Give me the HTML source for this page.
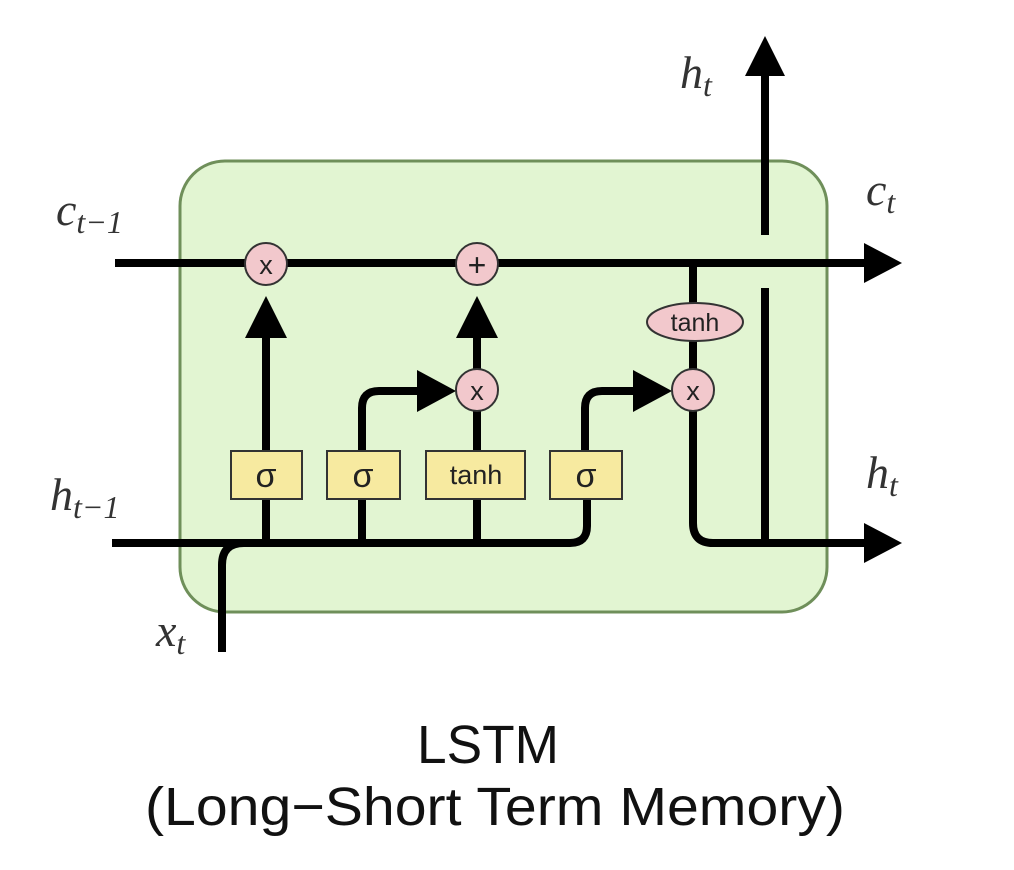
<!DOCTYPE html>
<html><head><meta charset="utf-8"><style>html,body{margin:0;padding:0;background:#fff;}svg{display:block}</style></head>
<body>
<svg width="1014" height="870" viewBox="0 0 1014 870" xmlns="http://www.w3.org/2000/svg">
<rect x="180" y="161" width="647" height="451" rx="45" ry="45" fill="#e2f5d2" stroke="#6f8f5a" stroke-width="3"/>
<g stroke="#000" stroke-width="8" fill="none" stroke-linecap="butt">
  <!-- cell state -->
  <line x1="115" y1="263" x2="868" y2="263"/>
  <!-- h line -->
  <path d="M112 543 H570 Q587 543 587 526 V499"/>
  <!-- x_t -->
  <path d="M222 652 V565 Q222 543 244 543"/>
  <!-- gate verticals -->
  <line x1="266" y1="543" x2="266" y2="499"/>
  <line x1="266" y1="451" x2="266" y2="335"/>
  <line x1="362" y1="543" x2="362" y2="499"/>
  <path d="M362 451 V408 Q362 391 379 391 H420"/>
  <line x1="477" y1="543" x2="477" y2="499"/>
  <line x1="477" y1="451" x2="477" y2="411"/>
  <line x1="477" y1="369" x2="477" y2="335"/>
  <path d="M585 451 V408 Q585 391 602 391 H637"/>
  <!-- output -->
  <line x1="693" y1="263" x2="693" y2="305"/>
  <line x1="693" y1="340" x2="693" y2="370"/>
  <path d="M693 411 V523 Q693 543 713 543 H868"/>
  <line x1="765" y1="543" x2="765" y2="288"/>
  <line x1="765" y1="235" x2="765" y2="72"/>
</g>
<g fill="#000">
  <polygon points="864,243 902,263 864,283"/>
  <polygon points="864,523 902,543 864,563"/>
  <polygon points="745,76 765,36 785,76"/>
  <polygon points="245,338 266,296 287,338"/>
  <polygon points="456,338 477,296 498,338"/>
  <polygon points="417,370 456,391 417,412"/>
  <polygon points="633,370 672,391 633,412"/>
</g>
<g fill="#f2c8cc" stroke="#333" stroke-width="2">
  <circle cx="266" cy="264" r="21"/>
  <circle cx="477" cy="264" r="21"/>
  <circle cx="477" cy="390" r="21"/>
  <circle cx="693" cy="390" r="21"/>
  <ellipse cx="695" cy="322" rx="48" ry="19"/>
</g>
<g fill="#f7eaa0" stroke="#333" stroke-width="2">
  <rect x="231" y="451" width="71" height="48"/>
  <rect x="327" y="451" width="73" height="48"/>
  <rect x="426" y="451" width="99" height="48"/>
  <rect x="550" y="451" width="72" height="48"/>
</g>
<g font-family="Liberation Sans, DejaVu Sans, sans-serif" fill="#222" text-anchor="middle">
  <text x="266" y="274" font-size="27">x</text>
  <text x="477" y="276" font-size="32">+</text>
  <text x="477" y="400" font-size="27">x</text>
  <text x="693" y="400" font-size="27">x</text>
  <text x="695" y="331" font-size="25">tanh</text>
  <text x="266" y="487" font-size="34">σ</text>
  <text x="363" y="487" font-size="34">σ</text>
  <text x="476" y="484" font-size="27">tanh</text>
  <text x="586" y="487" font-size="34">σ</text>
</g>
<g font-family="Liberation Serif, DejaVu Serif, serif" font-style="italic" fill="#333">
  <text x="56" y="225" font-size="46">c<tspan font-size="32" dy="8">t−1</tspan></text>
  <text x="50" y="510" font-size="46">h<tspan font-size="32" dy="8">t−1</tspan></text>
  <text x="156" y="646" font-size="46">x<tspan font-size="32" dy="8">t</tspan></text>
  <text x="680" y="88" font-size="46">h<tspan font-size="32" dy="8">t</tspan></text>
  <text x="866" y="205" font-size="46">c<tspan font-size="32" dy="8">t</tspan></text>
  <text x="866" y="488" font-size="46">h<tspan font-size="32" dy="8">t</tspan></text>
</g>
<g font-family="Liberation Sans, DejaVu Sans, sans-serif" fill="#111" text-anchor="middle">
  <text x="488" y="763" font-size="54" textLength="142" lengthAdjust="spacingAndGlyphs">LSTM</text>
  <text x="495" y="825" font-size="54" textLength="700" lengthAdjust="spacingAndGlyphs">(Long−Short Term Memory)</text>
</g>
</svg>
</body></html>
